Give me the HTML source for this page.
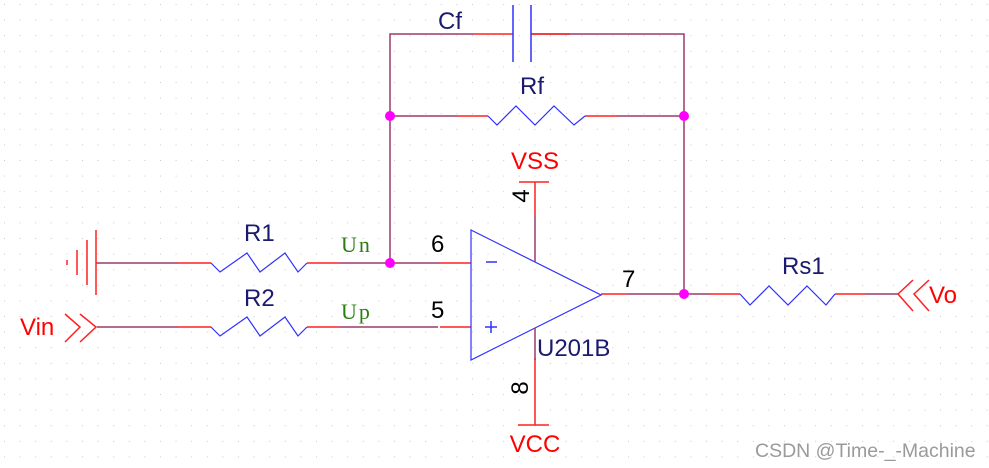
<!DOCTYPE html>
<html><head><style>
html,body{margin:0;padding:0;background:#fff;}
svg{display:block;}
text{font-family:"Liberation Sans",sans-serif;}
</style></head><body>
<svg width="989" height="468" viewBox="0 0 989 468" xmlns="http://www.w3.org/2000/svg">
<defs>
<pattern id="g" x="4" y="4" width="15.6" height="15.6" patternUnits="userSpaceOnUse">
<rect x="0" y="0" width="1" height="1" fill="#c8c8c8"/>
</pattern>
</defs>
<rect width="989" height="468" fill="url(#g)"/>
<g fill="none" stroke-width="1.5">
<path d="M390 263 V34 H473 M531 34 H684 V294" stroke="#9b3a6a"/>
<path d="M473 34 H513 M531 34 H570" stroke="#ff2020"/>
<path d="M513 5 V62 M531 5 V62" stroke="#3030ff"/>
<path d="M390 116 H457 M617 116 H684" stroke="#9b3a6a"/>
<path d="M457 116 H488 M585 116 H617" stroke="#ff2020"/>
<path d="M488 116 L497 125 L516 106 L535 125 L554 106 L574 125 L585 116" stroke="#3030ff" stroke-width="1.2"/>
<path d="M96 263 H178 M340 263 H440" stroke="#9b3a6a"/>
<path d="M178 263 H211 M307 263 H340 M440 263 H471" stroke="#ff2020"/>
<path d="M211 263 L220 272 L247 253 L260 272 L285 253 L298 272 L307 263" stroke="#3030ff" stroke-width="1.2"/>
<path d="M96 230 V295 M87 240 V285 M77 250 V275 M67 260 V265" stroke="#ff2020"/>
<path d="M97 327 H178 M340 327 H438" stroke="#9b3a6a"/>
<path d="M178 327 H211 M307 327 H340 M440 327 H471" stroke="#ff2020"/>
<path d="M211 327 L220 336 L247 317 L260 336 L285 317 L298 336 L307 327" stroke="#3030ff" stroke-width="1.2"/>
<path d="M65 314 L80 327 L65 342 M80 314 L96 327 L80 342" stroke="#ff2020"/>
<path d="M471 230 L601 295 L471 360 Z" stroke="#3030ff" stroke-width="1.2"/>
<path d="M486 262 H497 M485 327 H497 M491 321 V333" stroke="#3030ff"/>
<path d="M535 182 V215 M519 182 H549 M535 358 V425 M518 425 H549" stroke="#ff2020"/>
<path d="M535 215 V262 M535 328 V360" stroke="#9b3a6a"/>
<path d="M601 294 H628 M710 294 H740 M835 294 H866" stroke="#ff2020"/>
<path d="M628 294 H710 M866 294 H898" stroke="#9b3a6a"/>
<path d="M740 294 L750 305 L769 286 L788 305 L807 286 L826 305 L835 294" stroke="#3030ff" stroke-width="1.2"/>
<path d="M913 280 L898 294 L913 311 M929 280 L914 294 L929 311" stroke="#ff2020"/>
</g>
<g fill="#ff00ff">
<circle cx="390" cy="116" r="5"/><circle cx="684" cy="116" r="5"/>
<circle cx="390" cy="263" r="5"/><circle cx="684" cy="294" r="5"/>
</g>
<g fill="#1a1a70" font-size="24">
<text x="438" y="29">Cf</text>
<text x="520" y="94">Rf</text>
<text x="244" y="241">R1</text>
<text x="244" y="306">R2</text>
<text x="537" y="356">U201B</text>
<text x="782" y="274">Rs1</text>
</g>
<g fill="#ff0000" font-size="24">
<text x="535" y="169" text-anchor="middle">VSS</text>
<text x="535" y="452" text-anchor="middle">VCC</text>
<text x="20" y="335">Vin</text>
<text x="929" y="303">Vo</text>
</g>
<g fill="#2e7d12" font-size="22">
<text x="341" y="252" style="font-family:'Liberation Serif',serif" letter-spacing="2">Un</text>
<text x="341" y="319" style="font-family:'Liberation Serif',serif" letter-spacing="2">Up</text>
</g>
<g fill="#000" font-size="24">
<text x="431" y="252">6</text>
<text x="431" y="318">5</text>
<text x="622" y="287">7</text>
<text transform="translate(529,196) rotate(-90)" text-anchor="middle">4</text>
<text transform="translate(528,388) rotate(-90)" text-anchor="middle">8</text>
</g>
<text x="755" y="457" fill="#9a9a9a" font-size="19.5">CSDN @Time-_-Machine</text>
</svg>
</body></html>
